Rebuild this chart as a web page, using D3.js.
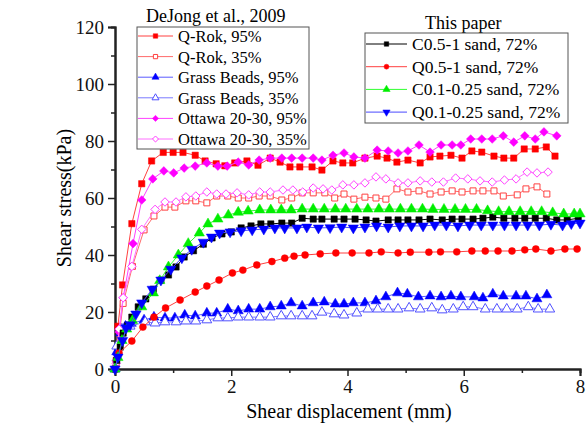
<!DOCTYPE html>
<html>
<head>
<meta charset="utf-8">
<script src="https://cdn.jsdelivr.net/npm/d3@7"></script>
<style>
    body { margin: 0; background: #fff; }
    text { font-family: "Liberation Serif", "Times New Roman", serif; }
</style>
</head>
<body>
<div id="chart"></div>
<script>
// Shear stress vs shear displacement data (x in mm, y in kPa)
const qRok95 = [[0.02,2],[0.05,15],[0.13,29.5],[0.29,51],[0.46,65],[0.63,73],[0.83,76],[1.0,76],[1.17,76],[1.38,75],[1.55,73],[1.74,72],[1.89,71.3],[2.06,72.3],[2.27,73],[2.46,71.5],[2.67,74],[2.84,72.6],[3.01,70.9],[3.18,70.9],[3.39,70.9],[3.56,69.8],[3.75,73],[3.92,72.3],[4.09,72.3],[4.3,74],[4.51,74.7],[4.68,74],[4.85,72.6],[5.04,73.3],[5.25,72.3],[5.42,74.4],[5.59,74.7],[5.78,75],[5.97,74],[6.14,76.5],[6.31,76.1],[6.52,74.7],[6.69,74],[6.86,74],[7.04,77.2],[7.23,77.2],[7.42,77.9],[7.57,74.7]];
const qRok35 = [[0.02,3],[0.14,23],[0.3,36],[0.5,48.8],[0.67,53.7],[0.86,56.8],[1.03,56.8],[1.22,59],[1.39,59],[1.58,58.3],[1.75,60.7],[1.94,60.7],[2.12,60],[2.3,60],[2.48,60.7],[2.67,60.7],[2.87,59.3],[3.04,60],[3.22,61.8],[3.41,61.8],[3.61,61.8],[3.78,60],[3.94,61.4],[4.11,59.6],[4.3,60.3],[4.49,60],[4.66,59.6],[4.85,63.2],[5.04,62.1],[5.23,62.5],[5.42,61.4],[5.61,62.1],[5.8,62.5],[5.97,62.1],[6.16,62.5],[6.33,62.5],[6.52,62.5],[6.68,60.7],[6.92,61.1],[7.07,63.2],[7.26,63.9],[7.43,61.4]];
const grass95 = [[0,0],[0.03,6],[0.1,12.6],[0.18,15],[0.28,16],[0.5,17.2],[0.67,18.2],[0.86,17.9],[1.03,17.9],[1.2,18.9],[1.38,18.6],[1.58,19.6],[1.75,19.6],[1.94,21],[2.12,20.4],[2.3,21],[2.49,21],[2.67,21.8],[2.86,22.1],[3.03,23.2],[3.22,22.1],[3.41,23.2],[3.6,23.5],[3.79,22.8],[3.94,22.8],[4.1,23.2],[4.3,23.2],[4.49,23.9],[4.66,25.3],[4.86,26.7],[5.03,26.3],[5.22,25.3],[5.42,25.6],[5.61,25.3],[5.78,25.6],[5.95,25.3],[6.18,25.3],[6.33,24.9],[6.5,26.3],[6.68,25.6],[6.9,25.6],[7.07,25.6],[7.26,24.6],[7.43,26]];
const grass35 = [[0,0],[0.03,8],[0.12,14],[0.26,15],[0.52,16.5],[0.69,16.1],[0.86,16.5],[1.05,16.5],[1.22,16.8],[1.39,16.8],[1.58,17.2],[1.77,17.9],[1.94,17.9],[2.12,18.2],[2.3,18.2],[2.49,18.2],[2.67,18.2],[2.86,18.6],[3.03,18.6],[3.22,18.6],[3.39,18.6],[3.56,19.9],[3.77,19.3],[3.94,18.9],[4.16,19.6],[4.35,21],[4.52,21],[4.7,21],[4.87,21],[5.06,21.4],[5.25,21],[5.45,21.4],[5.63,20.7],[5.82,21],[5.99,21.8],[6.16,21.8],[6.37,21],[6.57,21],[6.74,21],[6.92,21],[7.11,21.8],[7.28,21],[7.48,21]];
const ottawa95 = [[0.02,3],[0.07,13],[0.14,25],[0.31,44],[0.46,59.3],[0.65,66.7],[0.84,69.5],[1.01,68.8],[1.19,70.5],[1.38,71.2],[1.58,72.3],[1.77,71.2],[1.93,71.2],[2.12,72.6],[2.3,71.6],[2.48,73.3],[2.67,74],[2.87,74],[3.04,74],[3.22,74],[3.41,74],[3.56,73.3],[3.75,75],[3.94,75.8],[4.11,74.4],[4.3,74],[4.51,76.8],[4.7,76.5],[4.87,75.8],[5.04,76.5],[5.23,78.6],[5.42,76.1],[5.61,78.6],[5.8,78.6],[5.95,78.6],[6.12,80.7],[6.31,80.7],[6.49,80.7],[6.68,81.8],[6.86,79.6],[7.05,81.8],[7.23,80.7],[7.38,83.2],[7.6,81.8]];
const ottawa35 = [[0.02,2],[0.07,14],[0.14,25],[0.29,36],[0.46,49],[0.69,56],[0.86,58.6],[1.05,58.6],[1.22,60.4],[1.39,60.7],[1.58,62.1],[1.75,61.4],[1.91,61.4],[2.1,61.8],[2.3,61.1],[2.49,62.1],[2.67,62.1],[2.89,62.8],[3.06,62.8],[3.23,62.1],[3.41,63.5],[3.58,63.2],[3.73,62.8],[3.92,64.6],[4.11,64.6],[4.3,65.3],[4.49,67.4],[4.66,66.7],[4.87,65.3],[5.04,65.3],[5.25,66],[5.45,65.6],[5.65,65.6],[5.86,67],[6.07,66.7],[6.28,66],[6.49,65.6],[6.7,66.3],[6.9,66.7],[7.09,69.1],[7.26,68.8],[7.45,69.1]];

const c051 = [[0,0],[0.03,3],[0.09,7.7],[0.14,12.6],[0.22,15.4],[0.29,18.2],[0.4,21.8],[0.53,24.6],[0.66,28],[0.79,31.2],[0.92,33],[1.05,35.8],[1.19,39.3],[1.35,41.5],[1.52,43.8],[1.67,46],[1.84,47.4],[2.0,48.1],[2.17,49.5],[2.34,50.2],[2.51,50.9],[2.68,50.9],[2.87,51.2],[3.04,51.2],[3.22,52.9],[3.41,52.6],[3.56,52.6],[3.77,52.6],[3.94,52.6],[4.13,52.6],[4.32,52.3],[4.49,51.9],[4.7,52.3],[4.87,52.3],[5.04,52.3],[5.23,52.3],[5.42,52.6],[5.63,52.3],[5.8,52.6],[5.97,52.6],[6.16,52.6],[6.33,52.9],[6.5,53.3],[6.69,52.9],[6.88,52.9],[7.05,52.9],[7.23,52.9],[7.42,52.9],[7.6,52.3],[7.78,52.3],[7.97,52.9]];
const q051 = [[0,0],[0.07,5.6],[0.29,9.8],[0.48,14.7],[0.67,18.2],[0.87,21.4],[1.12,24.2],[1.38,27],[1.58,29.1],[1.79,31.2],[2.02,33.7],[2.2,34.7],[2.44,36.5],[2.7,37.7],[2.92,38.9],[3.08,39.6],[3.27,40],[3.53,40.4],[3.8,40.7],[4.08,40.7],[4.37,40.7],[4.58,41.1],[4.87,40.7],[5.08,41],[5.4,41],[5.6,41.1],[5.88,41.1],[6.14,41.4],[6.37,41.4],[6.59,41.4],[6.83,41.4],[7.05,41.8],[7.24,42.1],[7.5,41.4],[7.74,42.1],[7.95,42.1]];
const c01025 = [[0,0],[0.05,4],[0.12,10],[0.2,14],[0.3,17],[0.46,21.8],[0.66,26.7],[0.77,31],[0.92,35.8],[1.09,40],[1.26,44],[1.45,47.7],[1.6,50.9],[1.77,52.6],[1.95,54],[2.12,55],[2.29,55.4],[2.49,55.8],[2.68,55.8],[2.86,55.8],[3.03,55.8],[3.22,56.1],[3.41,56.1],[3.6,56.1],[3.79,56.1],[3.97,56.1],[4.16,56.1],[4.35,56.1],[4.54,56.1],[4.72,56.1],[4.91,56.1],[5.1,56.1],[5.29,56.1],[5.47,56],[5.66,56],[5.85,56],[6.03,56],[6.22,56],[6.41,55.5],[6.6,55.2],[6.78,55.2],[6.97,55.2],[7.16,55.2],[7.34,55.2],[7.53,54.8],[7.72,54.4],[7.9,54.4],[8.0,54.4]];
const q01025 = [[0,0],[0.05,4.2],[0.13,10],[0.19,14.4],[0.26,15.5],[0.36,19.3],[0.46,23.2],[0.64,28],[0.79,31.2],[0.96,35],[1.15,39],[1.32,42],[1.52,44.5],[1.66,46.3],[1.8,47.7],[1.98,48.1],[2.17,48.5],[2.36,48.8],[2.56,49.1],[2.75,49.5],[2.92,49.5],[3.13,49.5],[3.3,49.8],[3.5,49.5],[3.7,49.6],[3.9,49.8],[4.1,49.5],[4.3,49.8],[4.5,50.2],[4.7,49.8],[4.9,50.2],[5.1,50.2],[5.3,50.2],[5.5,50.5],[5.7,50.5],[5.9,50.2],[6.1,50.5],[6.3,50.5],[6.5,50.5],[6.7,50.5],[6.9,50.5],[7.1,50.5],[7.3,50.5],[7.5,50.8],[7.7,50.5],[7.85,51],[8.0,51.2]];

const xTicks = [0, 2, 4, 6, 8];
const yTicks = [0, 20, 40, 60, 80, 100, 120];

const dejongNames = ["Q-Rok, 95%", "Q-Rok, 35%", "Grass Beads, 95%", "Grass Beads, 35%", "Ottawa 20-30, 95%", "Ottawa 20-30, 35%"];
const paperNames = ["C0.5-1 sand, 72%", "Q0.5-1 sand, 72%", "C0.1-0.25 sand, 72%", "Q0.1-0.25 sand, 72%"];

// Series styles (Origin look)
const dejong = [
    {data: qRok95, line: '#ff4040', color: '#ff0000', shape: d3.symbolSquare, size: 40, fill: true},
    {data: qRok35, line: '#ff6a6a', color: '#ff4040', shape: d3.symbolSquare, size: 36, fill: false},
    {data: grass95, line: '#5a5aff', color: '#0000ff', shape: d3.symbolTriangle, size: 44, fill: true},
    {data: grass35, line: '#7a7aff', color: '#5050ff', shape: d3.symbolTriangle, size: 42, fill: false},
    {data: ottawa95, line: '#ff40ff', color: '#ff00ff', shape: d3.symbolDiamond2, size: 48, fill: true},
    {data: ottawa35, line: '#ff70ff', color: '#ff40ff', shape: d3.symbolDiamond2, size: 46, fill: false},
];
const paper = [
    {data: c051, line: '#000000', color: '#000000', shape: d3.symbolSquare, size: 40, fill: true},
    {data: q051, line: '#ff4040', color: '#ff0000', shape: d3.symbolCircle, size: 38, fill: true},
    {data: c01025, line: '#30ff30', color: '#00ee00', shape: d3.symbolTriangle, size: 46, fill: true},
    {data: q01025, line: '#4848ff', color: '#0000ff', shape: d3.symbolTriangle, size: 46, fill: true, down: true},
];

const width = 587, height = 425;
const svg = d3.select('#chart').append('svg').attr('width', width).attr('height', height);

const x = d3.scaleLinear().domain([0, 8]).range([115, 580]);
const y = d3.scaleLinear().domain([0, 120]).range([369, 27]);

// Axes
const xAxis = svg.append('g').attr('transform', `translate(0,${y(0)})`)
    .call(d3.axisBottom(x).tickValues(xTicks).tickFormat(d3.format('d')).tickSize(7).tickPadding(4));
const xMinor = svg.append('g').attr('transform', `translate(0,${y(0)})`)
    .call(d3.axisBottom(x).tickValues([1, 3, 5, 7]).tickFormat('').tickSize(4));
const yAxis = svg.append('g').attr('transform', `translate(${x(0)},0)`)
    .call(d3.axisLeft(y).tickValues(yTicks).tickFormat(d3.format('d')).tickSize(7).tickPadding(4));
const yMinor = svg.append('g').attr('transform', `translate(${x(0)},0)`)
    .call(d3.axisLeft(y).tickValues([10, 30, 50, 70, 90, 110]).tickFormat('').tickSize(4));

[xAxis, xMinor, yAxis, yMinor].forEach(g => {
    g.select('.domain').attr('stroke', '#222').attr('stroke-width', 2);
    g.selectAll('line').attr('stroke', '#222').attr('stroke-width', 1.5);
    g.selectAll('text').attr('font-size', 19).attr('fill', '#111');
});

// Axis titles
svg.append('text').attr('x', 349).attr('y', 418).attr('text-anchor', 'middle')
    .attr('font-size', 20).text('Shear displacement (mm)');
svg.append('text').attr('transform', `translate(71,198) rotate(-90)`).attr('text-anchor', 'middle')
    .attr('font-size', 20).text('Shear stress(kPa)');

// Draw a series as line + markers
const lineGen = d3.line().x(d => x(d[0])).y(d => y(d[1]));
const symbolPath = s => d3.symbol().type(s.shape).size(s.size)();

function drawMarker(g, s, px, py) {
    g.append('path')
        .attr('d', symbolPath(s))
        .attr('transform', `translate(${px},${py})` + (s.down ? ' rotate(180)' : ''))
        .attr('fill', s.fill ? s.color : '#fff')
        .attr('stroke', s.color)
        .attr('stroke-width', s.fill ? 0.5 : 1);
}

function drawSeries(s) {
    const g = svg.append('g');
    g.append('path').datum(s.data).attr('d', lineGen)
        .attr('fill', 'none').attr('stroke', s.line).attr('stroke-width', 1);
    s.data.forEach(d => drawMarker(g, s, x(d[0]), y(d[1])));
}

dejong.forEach(drawSeries);
paper.forEach(drawSeries);

// Legends
function drawLegend(title, titleX, titleY, box, names, styles, rowY, rowGap, lineX1, lineX2, fontSize) {
    svg.append('text').attr('x', titleX).attr('y', titleY).attr('font-size', 18).text(title);
    svg.append('rect').attr('x', box[0]).attr('y', box[1]).attr('width', box[2]).attr('height', box[3])
        .attr('fill', '#fff').attr('stroke', '#555').attr('stroke-width', 1);
    names.forEach((name, i) => {
        const s = styles[i];
        const cy = rowY + i * rowGap;
        svg.append('line').attr('x1', lineX1).attr('x2', lineX2).attr('y1', cy).attr('y2', cy)
            .attr('stroke', s.line).attr('stroke-width', 1);
        drawMarker(svg, Object.assign({}, s, {size: s.size * 0.5}), (lineX1 + lineX2) / 2, cy);
        svg.append('text').attr('x', lineX2 + 5).attr('y', cy + 6).attr('font-size', fontSize).text(name);
    });
}

drawLegend('DeJong et al., 2009', 146, 22, [137, 27, 172, 122], dejongNames, dejong, 36, 20.6, 138, 173, 16.5);
drawLegend('This paper', 425, 29, [365, 33, 203, 90], paperNames, paper, 44, 22.7, 366, 407, 17.5);
</script>
</body>
</html>
